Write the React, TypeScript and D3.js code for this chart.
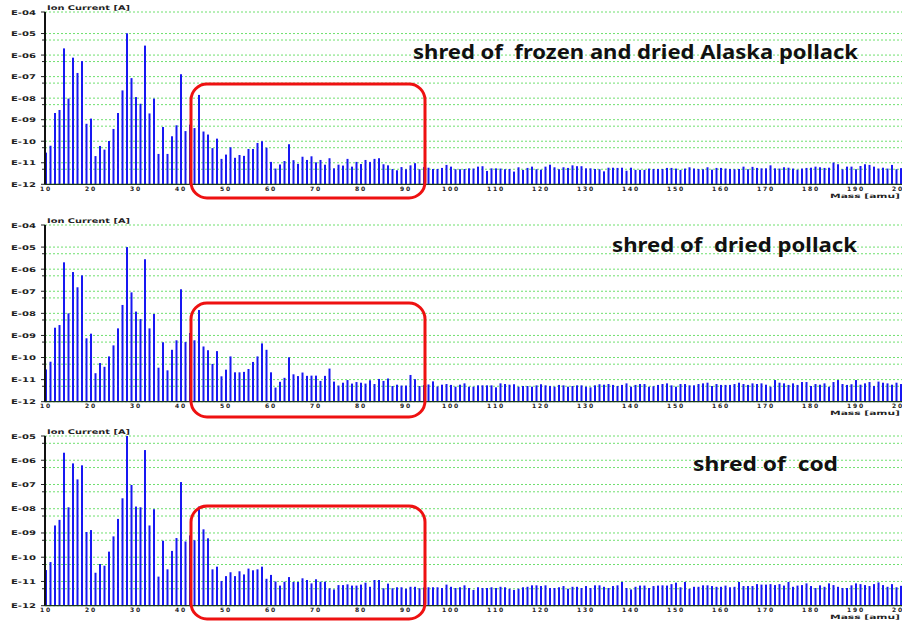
import * as d3 from "d3";

// mass numbers (amu) shown on each spectrum
const masses = d3.range(10, 201);

// log10 of ion current [A] for masses 10..200
const frozenDried = [
  -10.53, -10.21, -8.69, -8.55, -5.69, -8.02, -6.12, -6.83, -6.28, -9.19,
  -8.95, -10.69, -10.22, -10.39, -9.99, -9.43, -8.69, -7.64, -4.99, -7.07,
  -7.95, -8.26, -5.56, -8.71, -8.02, -10.59, -9.34, -10.59, -9.77, -9.26,
  -6.89, -9.53, -9.23, -9.39, -7.85, -9.55, -9.69, -10.32, -9.88, -10.82,
  -10.62, -10.28, -10.77, -10.64, -10.68, -10.36, -10.36, -10.08, -10.0, -10.3,
  -10.96, -11.27, -11.08, -10.92, -10.14, -10.88, -11.05, -10.72, -10.87, -10.7,
  -10.98, -10.87, -11.09, -10.79, -11.26, -11.09, -11.13, -10.82, -11.18, -10.96,
  -11.06, -10.87, -10.96, -10.82, -10.79, -11.07, -11.12, -11.29, -11.35, -11.2,
  -11.3, -11.12, -11.02, -11.3, -11.2, -11.23, -11.29, -11.29, -11.24, -11.1,
  -11.18, -11.3, -11.3, -11.29, -11.26, -11.27, -11.18, -11.16, -11.38, -11.26,
  -11.26, -11.27, -11.3, -11.29, -11.41, -11.21, -11.33, -11.24, -11.18, -11.3,
  -11.32, -11.18, -11.09, -11.21, -11.3, -11.21, -11.24, -11.12, -11.16, -11.16,
  -11.26, -11.26, -11.29, -11.3, -11.4, -11.23, -11.23, -11.24, -11.23, -11.37,
  -11.23, -11.33, -11.33, -11.33, -11.27, -11.29, -11.29, -11.29, -11.24, -11.24,
  -11.27, -11.33, -11.27, -11.21, -11.27, -11.29, -11.3, -11.21, -11.32, -11.24,
  -11.24, -11.27, -11.29, -11.3, -11.29, -11.18, -11.3, -11.19, -11.24, -11.26,
  -11.26, -11.12, -11.26, -11.27, -11.21, -11.23, -11.27, -11.32, -11.27, -11.24,
  -11.23, -11.18, -11.21, -11.24, -11.23, -10.99, -11.07, -11.3, -11.18, -11.18,
  -11.3, -11.15, -11.07, -11.1, -11.18, -11.27, -11.23, -11.27, -11.1, -11.3,
  -11.25,
];

const dried = [
  -10.54, -10.19, -8.65, -8.53, -5.69, -8.0, -6.13, -6.82, -6.28, -9.13,
  -8.92, -10.71, -10.25, -10.42, -9.95, -9.45, -8.68, -7.62, -5.0, -7.05,
  -7.92, -8.26, -5.55, -8.68, -8.03, -10.46, -9.31, -10.58, -9.65, -9.22,
  -6.91, -9.3, -8.89, -9.22, -7.85, -9.5, -9.67, -10.29, -9.71, -10.85,
  -10.55, -9.95, -10.67, -10.67, -10.65, -10.52, -10.2, -9.95, -9.36, -9.65,
  -10.67, -11.36, -11.1, -10.92, -9.99, -10.76, -10.84, -10.68, -10.83, -10.82,
  -10.82, -11.06, -10.83, -10.5, -11.09, -11.27, -11.14, -11.02, -11.18, -11.11,
  -11.14, -11.18, -11.03, -11.2, -10.97, -11.06, -10.95, -11.29, -11.23, -11.27,
  -11.27, -10.79, -10.98, -11.29, -11.25, -11.22, -11.08, -11.31, -11.23, -11.2,
  -11.24, -11.32, -11.23, -11.17, -11.32, -11.32, -11.26, -11.26, -11.26, -11.26,
  -11.35, -11.17, -11.2, -11.23, -11.21, -11.32, -11.29, -11.29, -11.32, -11.26,
  -11.21, -11.26, -11.29, -11.32, -11.24, -11.26, -11.32, -11.29, -11.26, -11.26,
  -11.32, -11.35, -11.26, -11.21, -11.23, -11.2, -11.24, -11.29, -11.24, -11.17,
  -11.32, -11.24, -11.2, -11.2, -11.32, -11.3, -11.24, -11.2, -11.17, -11.26,
  -11.32, -11.2, -11.2, -11.26, -11.26, -11.2, -11.17, -11.14, -11.29, -11.2,
  -11.24, -11.24, -11.24, -11.2, -11.14, -11.2, -11.24, -11.17, -11.2, -11.17,
  -11.23, -11.32, -11.02, -11.14, -11.17, -11.24, -11.17, -11.24, -11.11, -11.11,
  -11.29, -11.2, -11.23, -11.17, -11.32, -11.11, -11.02, -11.2, -11.24, -11.21,
  -11.02, -11.23, -11.17, -11.11, -11.29, -11.09, -11.14, -11.17, -11.23, -11.14,
  -11.2,
];

const cod = [
  -10.53, -10.2, -8.69, -8.46, -5.69, -7.94, -6.13, -6.79, -6.21, -8.96,
  -8.88, -10.64, -10.28, -10.35, -9.77, -9.14, -8.42, -7.57, -5.0, -7.02,
  -7.91, -7.94, -5.58, -8.69, -8.02, -10.8, -9.32, -10.5, -9.74, -9.21,
  -6.9, -9.35, -9.1, -9.3, -7.91, -8.85, -9.22, -10.5, -10.39, -10.98,
  -10.78, -10.62, -10.78, -10.58, -10.71, -10.47, -10.54, -10.5, -10.39, -10.89,
  -10.73, -11.0, -11.17, -11.01, -10.82, -11.02, -11.02, -10.87, -10.94, -11.08,
  -10.91, -11.01, -11.01, -11.28, -11.33, -11.15, -11.15, -11.12, -11.17, -11.17,
  -11.13, -11.05, -11.22, -10.94, -10.94, -11.28, -11.09, -11.28, -11.24, -11.24,
  -11.3, -11.22, -11.22, -11.28, -11.25, -11.24, -11.24, -11.24, -11.27, -11.13,
  -11.22, -11.27, -11.24, -11.16, -11.27, -11.35, -11.24, -11.27, -11.27, -11.24,
  -11.27, -11.22, -11.24, -11.3, -11.35, -11.3, -11.24, -11.22, -11.16, -11.16,
  -11.19, -11.16, -11.27, -11.27, -11.24, -11.19, -11.3, -11.22, -11.22, -11.27,
  -11.19, -11.27, -11.16, -11.16, -11.22, -11.27, -11.19, -11.16, -11.02, -11.27,
  -11.33, -11.22, -11.17, -11.17, -11.27, -11.19, -11.17, -11.16, -11.17, -11.11,
  -11.05, -11.24, -11.02, -11.3, -11.22, -11.22, -11.16, -11.16, -11.19, -11.22,
  -11.22, -11.17, -11.24, -11.22, -11.02, -11.19, -11.19, -11.19, -11.11, -11.13,
  -11.13, -11.11, -11.15, -11.11, -11.17, -11.02, -11.22, -11.17, -11.15, -11.08,
  -11.19, -11.27, -11.16, -11.22, -11.08, -11.15, -11.22, -11.27, -11.27, -11.16,
  -11.08, -11.11, -11.15, -11.19, -11.11, -11.04, -11.15, -11.22, -11.11, -11.24,
  -11.18,
];

const titles = [
  "shred of  frozen and dried Alaska pollack",
  "shred of  dried pollack",
  "shred of  cod",
];
const topExponents = [-4, -4, -5];
const massTicks = d3.range(10, 201, 10);

// layout of the three stacked spectra
const layout = [
  { top: 12, bottom: 184.3, titleX: 413, titleW: 445, titleY: 59, boxY: 84, boxH: 114 },
  { top: 225, bottom: 401.7, titleX: 612, titleW: 245, titleY: 252, boxY: 303, boxH: 114 },
  { top: 436, bottom: 605.7, titleX: 693, titleW: 145, titleY: 471, boxY: 506, boxH: 113 },
];
const seriesList = [frozenDried, dried, cod];

const W = 902;
const H = 621;
const axisX = 45;
const tinyFont = "DejaVu Sans, sans-serif";

const xScale = d3.scaleLinear().domain([10, 200]).range([46, 901]);

const Panel = ({ idx }: { idx: number }) => {
  const lay = layout[idx];
  const values = seriesList[idx];
  const topExp = topExponents[idx];
  const yScale = d3
    .scaleLog()
    .domain([1e-12, Math.pow(10, topExp)])
    .range([lay.bottom, lay.top]);

  const majors = d3.range(-12, topExp + 1).map((e) => ({ e, v: Math.pow(10, e) }));
  const minors = d3.range(-12, -5).map((e) => 5 * Math.pow(10, e));

  return (
    <g>
      {/* grid */}
      {majors.map((d) => (
        <line key={"M" + d.e} x1={axisX} x2={W} y1={yScale(d.v)} y2={yScale(d.v)}
          stroke="#6fe06f" strokeWidth={1} strokeDasharray="2,2" />
      ))}
      {minors.map((v, i) => (
        <line key={"m" + i} x1={axisX} x2={W} y1={yScale(v)} y2={yScale(v)}
          stroke="#6fe06f" strokeWidth={1} strokeDasharray="2,2" />
      ))}
      {/* y ticks */}
      {majors.map((d) => (
        <g key={"t" + d.e}>
          <line x1={axisX - 4} x2={axisX} y1={yScale(d.v)} y2={yScale(d.v)} stroke="#222" />
          <text x={11} y={yScale(d.v) + 2.5} fontFamily={tinyFont} fontWeight="bold" fontSize={6.5}
            textLength={25} lengthAdjust="spacingAndGlyphs" fill="#222">
            {"E-" + String(-d.e).padStart(2, "0")}
          </text>
        </g>
      ))}
      {minors.map((v, i) => (
        <line key={"mt" + i} x1={axisX - 3} x2={axisX} y1={yScale(v)} y2={yScale(v)} stroke="#222" />
      ))}
      {/* bars */}
      {masses.map((m, i) => {
        const y = yScale(Math.pow(10, values[i]));
        return (
          <rect key={m} x={xScale(m) - 1} y={y} width={2} height={lay.bottom - y} fill="#1818f2" />
        );
      })}
      {/* axes */}
      <line x1={axisX} x2={axisX} y1={lay.top} y2={lay.bottom} stroke="#111" strokeWidth={2} />
      <line x1={axisX} x2={W} y1={lay.bottom} y2={lay.bottom} stroke="#1a3a1a" strokeWidth={1.2} />
      {massTicks.map((m) => (
        <text key={"x" + m} x={xScale(m)} y={lay.bottom + 6.3} textAnchor="middle"
          fontFamily={tinyFont} fontWeight="bold" fontSize={6} letterSpacing={1.8} fill="#222">
          {m}
        </text>
      ))}
      <text x={47} y={lay.top - 2} fontFamily={tinyFont} fontWeight="bold" fontSize={6.5}
        textLength={83} lengthAdjust="spacingAndGlyphs" fill="#222">
        Ion Current [A]
      </text>
      <text x={830} y={lay.bottom + 13.2} fontFamily={tinyFont} fontWeight="bold" fontSize={6}
        textLength={70} lengthAdjust="spacingAndGlyphs" fill="#222">
        Mass [amu]
      </text>
      {/* title */}
      <text x={lay.titleX} y={lay.titleY} fontFamily="Noto Sans, sans-serif" fontWeight="bold"
        fontSize={19} textLength={lay.titleW} lengthAdjust="spacingAndGlyphs"
        style={{ whiteSpace: "pre" }} fill="#111">
        {titles[idx]}
      </text>
      {/* highlight box */}
      <rect x={191} y={lay.boxY} width={234} height={lay.boxH} rx={16} ry={16}
        fill="none" stroke="#ee1111" strokeWidth={3} />
    </g>
  );
};

const App = () => {
  return (
    <svg width={W} height={H} style={{ position: "absolute", left: 0, top: 0, background: "#fff" }}>
      <rect width={W} height={H} fill="#fff" />
      {layout.map((_, i) => (
        <Panel key={i} idx={i} />
      ))}
    </svg>
  );
};

export default App;
